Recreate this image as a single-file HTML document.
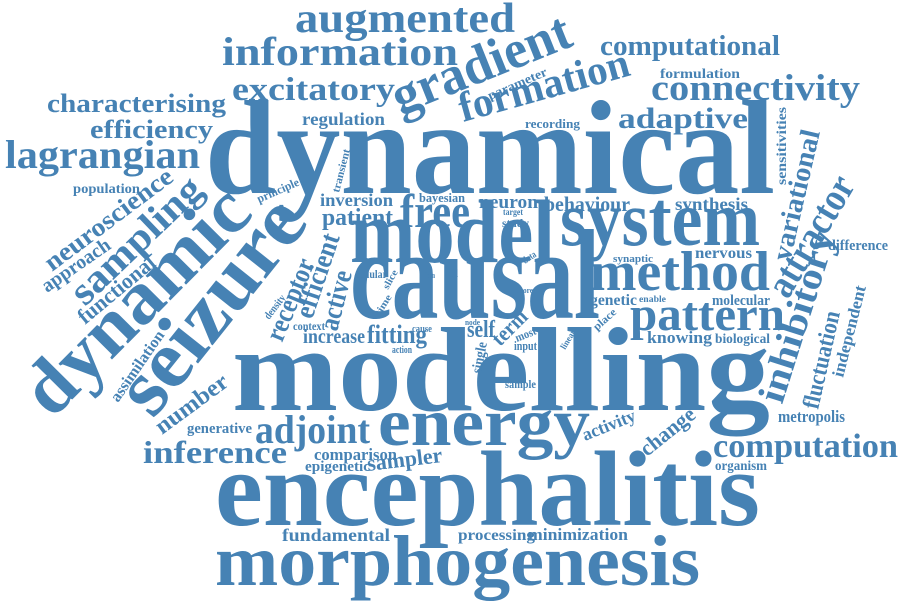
<!DOCTYPE html>
<html><head><meta charset="utf-8">
<style>
html,body{margin:0;padding:0;background:#fff;}
svg{display:block;}
text{font-family:"Liberation Serif",serif;font-weight:bold;fill:#4682b4;}
</style></head>
<body>
<svg id="cloud" width="900" height="604" viewBox="0 0 900 604" xmlns="http://www.w3.org/2000/svg"></svg>
<script>
// [word, x1, y1 (baseline start), x2, y2 (baseline end), font-size]
const words = [
["dynamical",205,193,775,193,134],
["modelling",232,410,770,410,120],
["encephalitis",215,525,760,525,107],
["morphogenesis",215,585,700,585,72],
["causal",350,318,600,318,128],
["model",350,262,555,262,90],
["system",560,245,760,245,78],
["method",590,290,770,290,56],
["pattern",630,330,785,330,48],
["energy",378,445,590,445,68],
["free",400,227,470,227,48],
["seizure",153,420,310,223,82],
["dynamic",52,420,255,215,76],
["gradient",400,115,575,45,54],
["formation",463,122,632,75,42],
["augmented",295,32,515,32,42],
["information",222,65,458,65,40],
["excitatory",232,100,395,100,33],
["characterising",47,112,226,112,26],
["efficiency",90,138,213,138,26],
["lagrangian",5,168,200,168,40],
["computational",600,55,780,55,28],
["formulation",660,78,740,78,14],
["connectivity",651,100,860,100,37],
["adaptive",618,128,748,128,30],
["regulation",302,125,385,125,18],
["parameter",490,100,548,75,13],
["recording",525,128,580,128,13],
["behaviour",544,211,630,211,21],
["neuron",479,208,538,208,19],
["bayesian",419,202,465,202,13],
["inversion",320,206,393,206,18],
["patient",322,225,393,225,24],
["principle",259,203,300,185,12],
["transient",339,193,350,150,11],
["target",503,215,523,215,9],
["study",502,227,529,227,12],
["synthesis",675,210,748,210,18],
["synaptic",613,262,653,262,11],
["nervous",695,258,752,258,16],
["genetic",590,305,637,305,16],
["enable",639,302,666,302,9],
["molecular",712,305,770,305,15],
["knowing",647,343,712,343,17],
["biological",715,343,770,343,14],
["place",597,331,617,313,11],
["difference",828,250,888,250,15],
["sensitivities",786,185,786,107,14],
["variational",790,262,820,132,28],
["attractor",788,300,856,185,40],
["inhibitory",782,405,836,235,38],
["fluctuation",818,410,840,313,24],
["independent",843,378,866,287,17],
["metropolis",778,422,845,422,17],
["computation",713,457,898,457,34],
["organism",715,470,767,470,14],
["change",647,457,697,417,22],
["activity",585,441,637,420,18],
["processing",458,540,535,540,16],
["minimization",528,540,628,540,17],
["fundamental",282,541,390,541,18],
["epigenetic",305,471,370,471,15],
["sampler",368,471,443,462,22],
["comparison",314,460,397,460,17],
["generative",187,433,252,433,15],
["adjoint",255,443,370,443,40],
["inference",143,463,287,463,32],
["number",162,435,230,385,24],
["assimilation",118,403,165,335,16],
["functional",85,325,157,265,22],
["approach",47,293,112,248,20],
["neuroscience",52,272,175,180,26],
["sampling",85,307,205,192,40],
["population",73,193,140,193,14],
["receptor",282,343,315,263,28],
["efficient",312,320,340,237,28],
["active",337,332,352,273,28],
["density",269,320,286,298,11],
["context",293,330,325,330,12],
["increase",303,343,365,343,20],
["fitting",367,343,427,343,26],
["cellular",355,278,387,278,12],
["slice",388,290,398,272,10],
["time",380,316,392,297,10],
["form",425,278,435,278,8],
["cell",445,277,458,277,12],
["data",525,264,537,256,10],
["more",517,293,533,293,8],
["node",465,325,480,325,8],
["cause",412,332,432,332,10],
["action",392,353,412,353,10],
["self",467,337,495,337,24],
["single",481,374,487,343,15],
["term",500,347,529,318,22],
["most",517,342,537,334,12],
["input",514,350,537,350,13],
["linear",565,350,576,332,9],
["sample",505,388,536,388,12]
];
const svg = document.getElementById('cloud');
const NS = 'http://www.w3.org/2000/svg';
for (const w of words) {
  const [txt, x1, y1, x2, y2, size] = w;
  const len = Math.hypot(x2 - x1, y2 - y1);
  const ang = Math.atan2(y2 - y1, x2 - x1) * 180 / Math.PI;
  const t = document.createElementNS(NS, 'text');
  
  
  t.setAttribute('x', 0);
  t.setAttribute('y', 0);
  t.setAttribute('font-size', size);
  t.setAttribute('textLength', len.toFixed(1));
  t.setAttribute('lengthAdjust', 'spacingAndGlyphs');
  t.setAttribute('transform', 'translate(' + x1 + ',' + y1 + ') rotate(' + ang.toFixed(2) + ')');
  t.textContent = txt;
  svg.appendChild(t);
}
</script>
</body></html>
